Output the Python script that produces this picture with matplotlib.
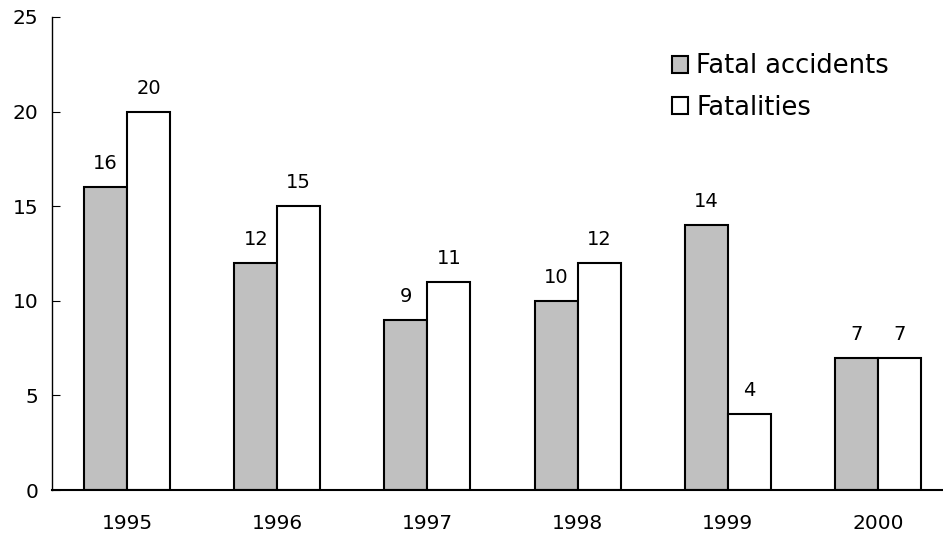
import numpy as np
import matplotlib.pyplot as plt

# Data
years = ['1995', '1996', '1997', '1998', '1999', '2000']
fatal_accidents = [16, 12, 9, 10, 14, 7]
fatalities = [20, 15, 11, 12, 4, 7]

plt.rcParams['font.family'] = ['DejaVu Sans']

fig = plt.figure(figsize=(9.43, 5.35), dpi=100)
ax = fig.add_axes([52 / 943, 45 / 535, 891 / 943, 473 / 535])

x = np.arange(len(years))
w = 0.286

b1 = ax.bar(x - w / 2, fatal_accidents, w, color='#c0c0c0', edgecolor='black', linewidth=1.5, label='Fatal accidents')
b2 = ax.bar(x + w / 2, fatalities, w, color='white', edgecolor='black', linewidth=1.5, label='Fatalities')

# value labels
for bars in (b1, b2):
    for bar in bars:
        h = bar.get_height()
        ax.annotate('{:d}'.format(int(h)), (bar.get_x() + bar.get_width() / 2, h),
                    xytext=(0, 10), textcoords='offset points',
                    ha='center', va='bottom', fontsize=14)

ax.set_xlim(-0.5, 5.433)
ax.set_ylim(0, 25)
ax.set_yticks([0, 5, 10, 15, 20, 25])
ax.set_xticks(x)
ax.set_xticklabels(years)
ax.tick_params(axis='y', direction='in', length=6, labelsize=14.5, pad=10)
ax.tick_params(axis='x', length=0, labelsize=14.5, pad=17)

ax.spines['top'].set_visible(False)
ax.spines['right'].set_visible(False)
ax.spines['left'].set_linewidth(1)
ax.spines['bottom'].set_linewidth(1.5)

ax.legend(loc='upper left', bbox_to_anchor=(0.684, 0.945), frameon=False, fontsize=18.5,
          handlelength=0.65, handleheight=0.65, handletextpad=0.3, labelspacing=0.6, borderaxespad=0)

plt.savefig('out.png', dpi=100)
